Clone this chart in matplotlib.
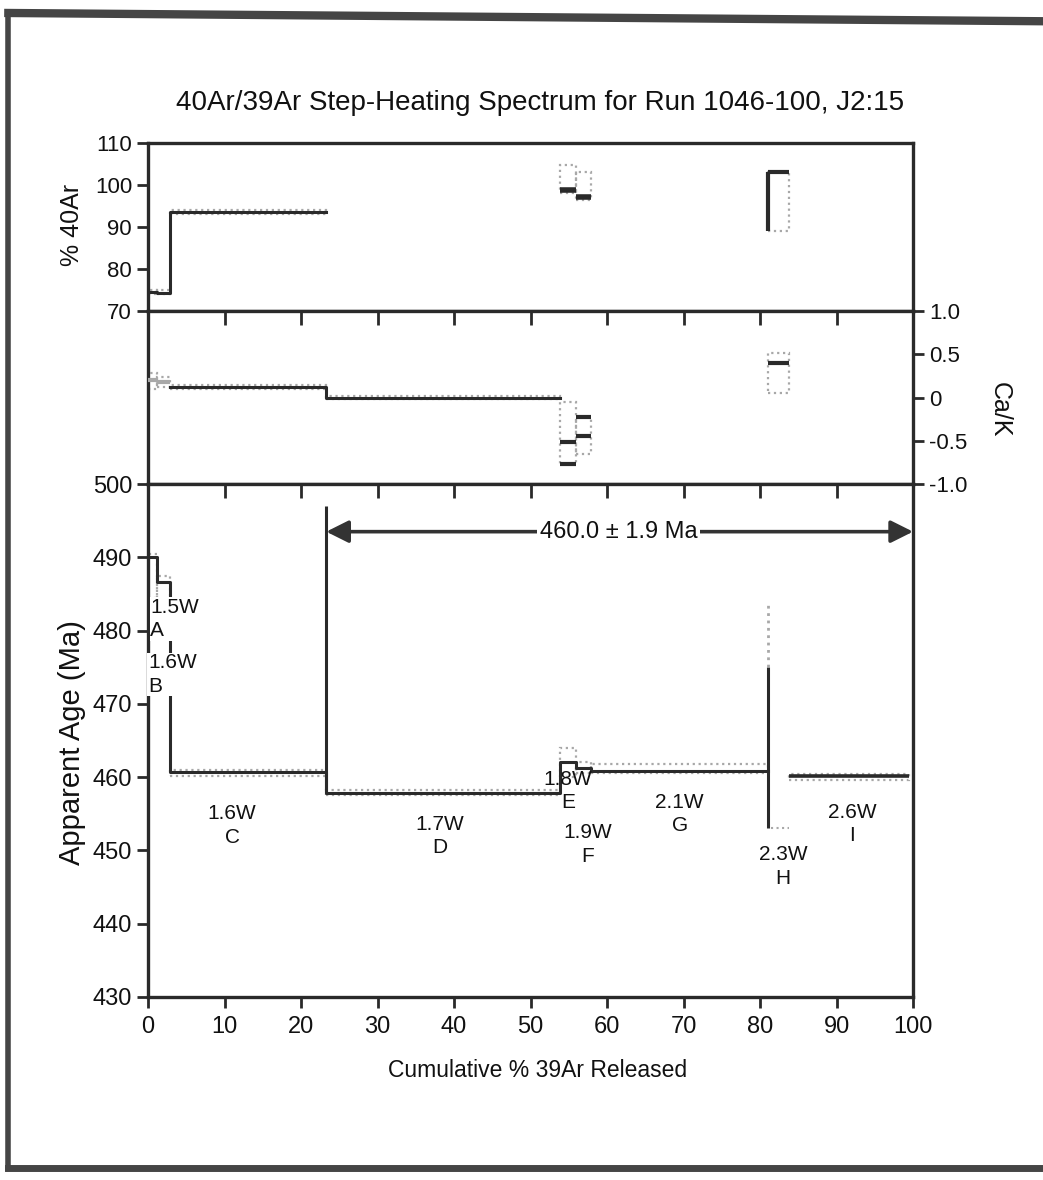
import numpy as np
import matplotlib
matplotlib.use("Agg")
import matplotlib.pyplot as plt
from matplotlib.patches import Rectangle
from matplotlib.lines import Line2D

plt.rcParams['font.family'] = ['Liberation Sans', 'DejaVu Sans']
plt.rcParams['axes.unicode_minus'] = False

# step data
steps = ["A", "B", "C", "D", "E", "F", "G", "H", "I"]
watts = ["1.5W", "1.6W", "1.6W", "1.7W", "1.8W", "1.9W", "2.1W", "2.3W", "2.6W"]
cum_start = [0.0, 1.2, 2.9, 23.3, 53.9, 55.9, 57.9, 81.0, 83.8]
cum_end = [1.2, 2.9, 23.3, 53.9, 55.9, 57.9, 81.0, 83.8, 99.5]

age = [490.0, 486.6, 460.7, 457.9, 462.0, 461.3, 460.8, 464.0, 460.1]
age_lo = [484.4, 484.0, 460.1, 457.5, 460.0, 460.5, 460.6, 453.0, 459.6]
age_hi = [490.5, 487.5, 461.0, 458.2, 464.0, 462.0, 461.8, 484.0, 460.4]

rad = [74.6, 74.4, 93.5, np.nan, 98.8, 97.2, np.nan, 103.0, np.nan]
rad_lo = [74.0, 74.0, 93.0, np.nan, 98.0, 96.5, np.nan, 89.0, np.nan]
rad_hi = [75.0, 75.0, 94.0, np.nan, 104.7, 103.0, np.nan, 103.0, np.nan]

cak = [0.20, 0.18, 0.12, 0.00, -0.51, -0.44, np.nan, 0.40, np.nan]
cak_lo = [0.10, 0.12, 0.10, -0.02, -0.77, -0.65, np.nan, 0.05, np.nan]
cak_hi = [0.28, 0.24, 0.14, 0.02, -0.05, -0.22, np.nan, 0.52, np.nan]

plateau_start, plateau_end = 23.3, 100.0
plateau_age, plateau_err = 460.0, 1.9

# label positions (x %, age) for each step label
lab_x = [0.3, 0.0, 11.0, 38.2, 54.9, 57.5, 69.5, 83.0, 92.0]
lab_y = [481.6, 474.0, 453.4, 452.0, 458.1, 450.8, 455.0, 447.8, 453.6]

dark = "#2a2a2a"
grey = "#a8a8a8"

fig = plt.figure(figsize=(10.43, 11.8), dpi=100)
left, width = 0.1419, 0.7335
ax_top = fig.add_axes([left, 0.7364, width, 0.1424])
ax_mid = fig.add_axes([left, 0.5898, width, 0.1466])
ax_bot = fig.add_axes([left, 0.1551, width, 0.4347])

for ax in (ax_top, ax_mid, ax_bot):
    ax.set_xlim(0, 100)
    for s in ax.spines.values():
        s.set_linewidth(2.4)
        s.set_color(dark)
    ax.tick_params(width=2, length=8, color=dark, labelsize=16, labelcolor="#111")


def draw_series(ax, vals, lo, hi, idx_line, skip_box=()):
    # error boxes
    for i in range(len(steps)):
        if np.isnan(vals[i]) or i in skip_box:
            continue
        ax.add_patch(Rectangle((cum_start[i], lo[i]), cum_end[i] - cum_start[i],
                               hi[i] - lo[i], fill=False, edgecolor=grey,
                               linestyle=":", linewidth=1.6, zorder=2))
    # stepped line through consecutive steps
    xs = [cum_start[i] for i in idx_line] + [cum_end[idx_line[-1]]]
    ys = [vals[i] for i in idx_line] + [vals[idx_line[-1]]]
    ax.step(xs, ys, where="post", color=dark, lw=2.2, zorder=3)


# top panel: % radiogenic 40Ar
draw_series(ax_top, rad, rad_lo, rad_hi, [0, 1, 2])
for i in (4, 5):
    ax_top.hlines(rad[i], cum_start[i], cum_end[i], color=dark, lw=4, zorder=3)
ax_top.hlines(rad[7], cum_start[7], cum_end[7], color=dark, lw=3, zorder=3)
ax_top.vlines(cum_start[7], rad_lo[7], rad_hi[7], color=dark, lw=3, zorder=3)
ax_top.set_ylim(70, 110)
ax_top.set_yticks([70, 80, 90, 100, 110])
ax_top.set_xticks([])

# middle panel: Ca/K
draw_series(ax_mid, cak, cak_lo, cak_hi, [2, 3])
for i in (0, 1, 4, 5, 7):
    ax_mid.hlines(cak[i], cum_start[i], cum_end[i], color=dark if i > 1 else grey,
                  lw=3, zorder=3)
ax_mid.hlines(cak_lo[4], cum_start[4], cum_end[4], color=dark, lw=3, zorder=3)
ax_mid.hlines(cak_hi[5], cum_start[5], cum_end[5], color=dark, lw=3, zorder=3)
ax_mid.set_ylim(-1.0, 1.0)
ax_mid.set_yticks([-1.0, -0.5, 0, 0.5, 1.0])
ax_mid.set_yticklabels(["-1.0", "-0.5", "0", "0.5", "1.0"])
ax_mid.yaxis.tick_right()
ax_mid.set_xticks(np.arange(10, 100, 10))
ax_mid.tick_params(axis="x", top=True, bottom=False, labeltop=False,
                   labelbottom=False, direction="in", length=10)

# bottom panel: apparent age spectrum
draw_series(ax_bot, age, age_lo, age_hi, [0, 1, 2, 3, 4, 5, 6], skip_box=(7,))
ax_bot.vlines(cum_start[7], age_lo[7], age_hi[7] - 9, color=dark, lw=2.2, zorder=3)
ax_bot.vlines(cum_start[7], age_hi[7] - 9, age_hi[7], color=grey, lw=2,
              linestyle=":", zorder=3)
ax_bot.hlines(age_lo[7], cum_start[7] + 0.4, cum_end[7], color=grey, lw=1.5,
              linestyle=":", zorder=3)
ax_bot.hlines(age[8], cum_start[8], cum_end[8], color=dark, lw=2.6, zorder=3)
# plateau marker
ax_bot.vlines(plateau_start, age[3], 497.0, color=dark, lw=2.2, zorder=3)
arrow_y = 493.5
ax_bot.annotate("", xy=(plateau_end, arrow_y), xytext=(plateau_start, arrow_y),
                arrowprops=dict(arrowstyle="<|-|>", color="#333", lw=2.6,
                                mutation_scale=34, shrinkA=0, shrinkB=0), zorder=4)
ax_bot.text(61.5, arrow_y, f"{plateau_age:.1f} \u00b1 {plateau_err} Ma", ha="center",
            va="center", fontsize=17, color="#111", zorder=5,
            bbox=dict(facecolor="white", edgecolor="none", pad=2))

for i in range(len(steps)):
    ha = "left" if i < 2 else "center"
    box = dict(facecolor="white", edgecolor="none", pad=0.5) if i < 2 else None
    ax_bot.text(lab_x[i], lab_y[i], f"{watts[i]}\n{steps[i]}", ha=ha, va="center",
                fontsize=15, linespacing=1.3, color="#111", zorder=5, bbox=box)

ax_bot.set_ylim(430, 500)
ax_bot.set_yticks(np.arange(430, 501, 10))
ax_bot.set_xticks(np.arange(0, 101, 10))
ax_bot.tick_params(axis="x", direction="out", labelsize=17, pad=6)
ax_bot.tick_params(axis="y", labelsize=17)

# inward top ticks on the age panel
sec = ax_bot.secondary_xaxis("top")
sec.set_xticks(np.arange(10, 100, 10))
sec.tick_params(direction="in", length=10, width=2, color=dark, labeltop=False)
sec.spines["top"].set_visible(False)

# axis titles
fig.text(0.518, 0.9127, "40Ar/39Ar Step-Heating Spectrum for Run 1046-100, J2:15",
         ha="center", va="center", fontsize=20, color="#111")
fig.text(0.069, 0.809, "% 40Ar", rotation=90, ha="center", va="center",
         fontsize=18, color="#111")
fig.text(0.069, 0.371, "Apparent Age (Ma)", rotation=90, ha="center", va="center",
         fontsize=21, color="#111")
fig.text(0.959, 0.6525, "Ca/K", rotation=270, ha="center", va="center",
         fontsize=18, color="#111")
fig.text(0.515, 0.0932, "Cumulative % 39Ar Released", ha="center", va="center",
         fontsize=16.5, color="#111")

# scanned page frame
frame = "#454545"
fig.add_artist(Line2D([0.008, 1.0], [0.989, 0.982], transform=fig.transFigure,
                      color=frame, lw=6))
fig.add_artist(Line2D([0.008, 0.008], [0.989, 0.010], transform=fig.transFigure,
                      color=frame, lw=4))
fig.add_artist(Line2D([0.008, 1.0], [0.010, 0.010], transform=fig.transFigure,
                      color=frame, lw=5))

fig.savefig("out.png", dpi=100, facecolor="white")
